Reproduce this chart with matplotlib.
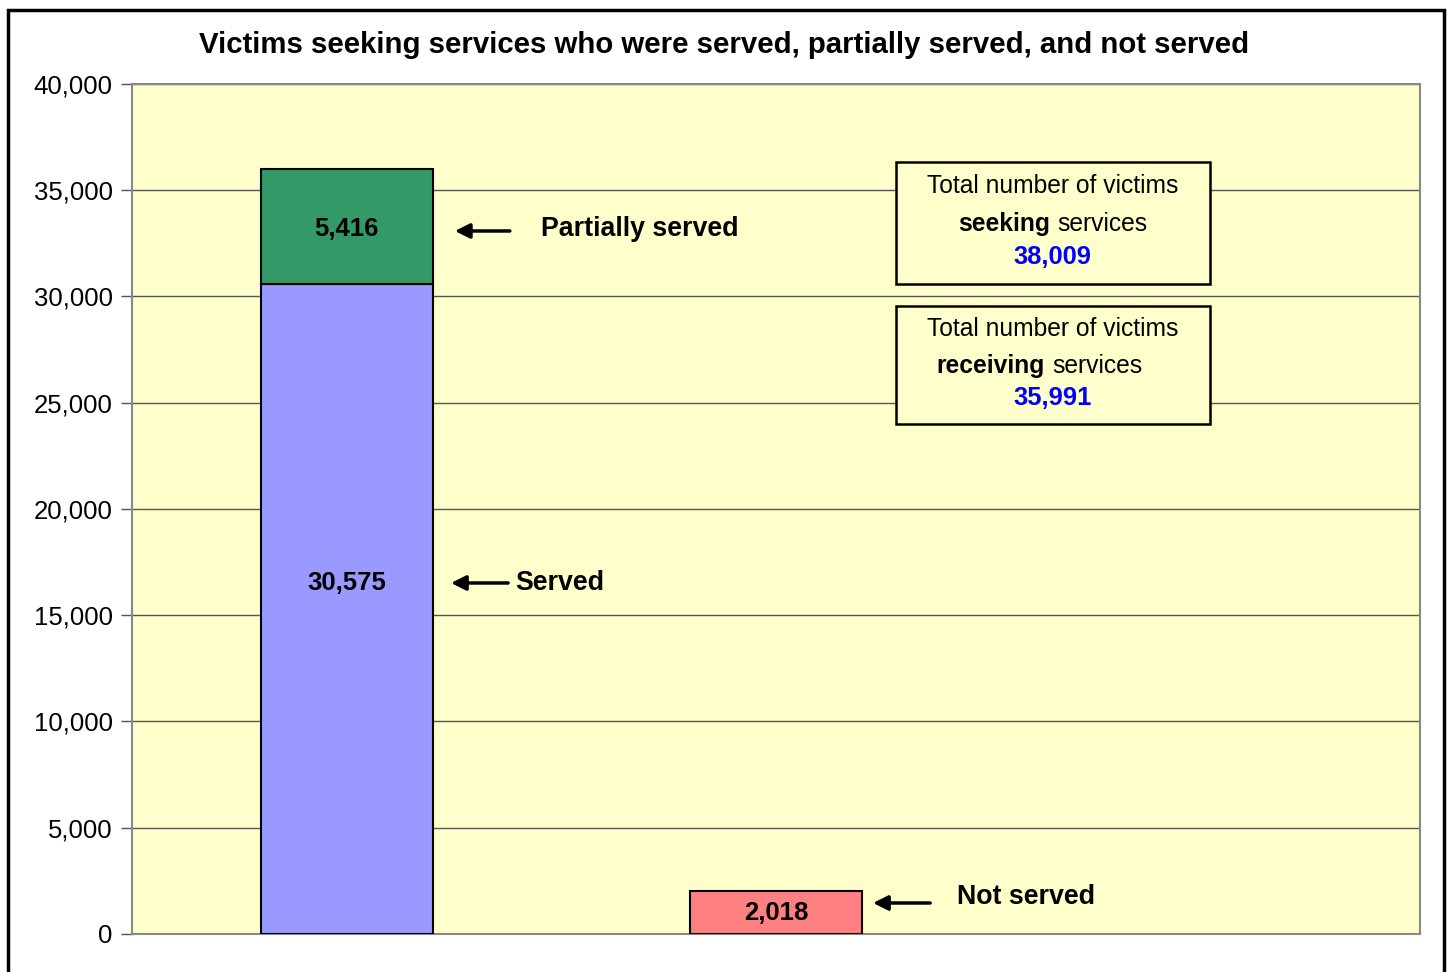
import numpy as np
from matplotlib import pyplot as plt
from matplotlib.patches import Rectangle

# data (nan = no bar in that slot)
categories = ["Served / partially served", "Not served", ""]
served = np.array([30575, np.nan, np.nan])
partially_served = np.array([5416, np.nan, np.nan])
not_served = np.array([np.nan, 2018, np.nan])
y_ticks = np.arange(0, 40001, 5000)

total_seeking = int(np.nansum(served) + np.nansum(partially_served) + np.nansum(not_served))
total_receiving = int(np.nansum(served) + np.nansum(partially_served))

plt.rcParams['font.family'] = ['Liberation Sans', 'DejaVu Sans']

fig = plt.figure(figsize=(14.49, 9.72), dpi=100)
ax = fig.add_axes([0.0911, 0.0391, 0.980 - 0.0911, 0.9136 - 0.0391])
ax.set_facecolor("#FFFFCC")

x = np.arange(len(categories))
ax.bar(x, served, width=0.4, color="#9999FF", edgecolor="black", linewidth=1.5, zorder=3)
ax.bar(x, partially_served, bottom=served, width=0.4, color="#339966", edgecolor="black", linewidth=1.5, zorder=3)
ax.bar(x, not_served, width=0.4, color="#FF8080", edgecolor="black", linewidth=1.5, zorder=3)

ax.set_xlim(-0.5, 2.5)
ax.set_ylim(0, 40000)
ax.set_yticks(y_ticks)
ax.set_yticklabels([f"{v:,}" for v in y_ticks], fontsize=18.5)
ax.set_xticks([])
ax.yaxis.grid(True, color="#555555", linewidth=1)
ax.set_axisbelow(True)
ax.tick_params(axis='y', length=8, width=1, color="#555555", pad=6)
for s in ax.spines.values():
    s.set_color("#888888")
    s.set_linewidth(1.5)

# value labels
ax.text(0, 33176, f"{int(partially_served[0]):,}", ha="center", va="center", fontsize=18.5, fontweight="bold", zorder=4)
ax.text(0, 16518, f"{int(served[0]):,}", ha="center", va="center", fontsize=18.5, fontweight="bold", zorder=4)
ax.text(1, 988, f"{int(not_served[1]):,}", ha="center", va="center", fontsize=18.5, fontweight="bold", zorder=4)

# arrows and segment names
arrow = dict(arrowstyle="-|>", lw=2.5, color="black", mutation_scale=22, shrinkA=0, shrinkB=0)
ax.annotate("", xy=(0.252, 33082), xytext=(0.380, 33082), arrowprops=arrow)
ax.text(0.453, 33176, "Partially served", ha="left", va="center", fontsize=19.3, fontweight="bold")
ax.annotate("", xy=(0.243, 16518), xytext=(0.376, 16518), arrowprops=arrow)
ax.text(0.392, 16518, "Served", ha="left", va="center", fontsize=19.3, fontweight="bold")
ax.annotate("", xy=(1.226, 1459), xytext=(1.359, 1459), arrowprops=arrow)
ax.text(1.422, 1741, "Not served", ha="left", va="center", fontsize=19.3, fontweight="bold")

# total boxes
for (y0, y1, word, split, value) in [(0.765, 0.908, "seeking", 0.7127, total_seeking),
                                      (0.600, 0.739, "receiving", 0.7089, total_receiving)]:
    ax.add_patch(Rectangle((0.593, y0), 0.837 - 0.593, y1 - y0, transform=ax.transAxes,
                           facecolor="#FFFFCC", edgecolor="black", linewidth=1.8, zorder=5))
    h = y1 - y0
    ax.text(0.715, y1 - 0.2 * h, "Total number of victims", transform=ax.transAxes,
            ha="center", va="center", fontsize=17.7, zorder=6)
    ax.text(split, y1 - 0.51 * h, word, transform=ax.transAxes,
            ha="right", va="center", fontsize=17.7, fontweight="bold", zorder=6)
    ax.text(split + 0.0055, y1 - 0.51 * h, "services", transform=ax.transAxes,
            ha="left", va="center", fontsize=17.7, zorder=6)
    ax.text(0.715, y1 - 0.78 * h, f"{value:,}", transform=ax.transAxes,
            ha="center", va="center", fontsize=18.4, fontweight="bold", color="#0000FF", zorder=6)

fig.text(0.5, 0.954, "Victims seeking services who were served, partially served, and not served",
         ha="center", va="center", fontsize=21.2, fontweight="bold")

# outer chart border
fig.add_artist(Rectangle((0.0055, -0.02), 0.9966 - 0.0055, 0.9897 + 0.02, transform=fig.transFigure,
                         fill=False, edgecolor="black", linewidth=2.5))

fig.savefig("out.png", dpi=100)
